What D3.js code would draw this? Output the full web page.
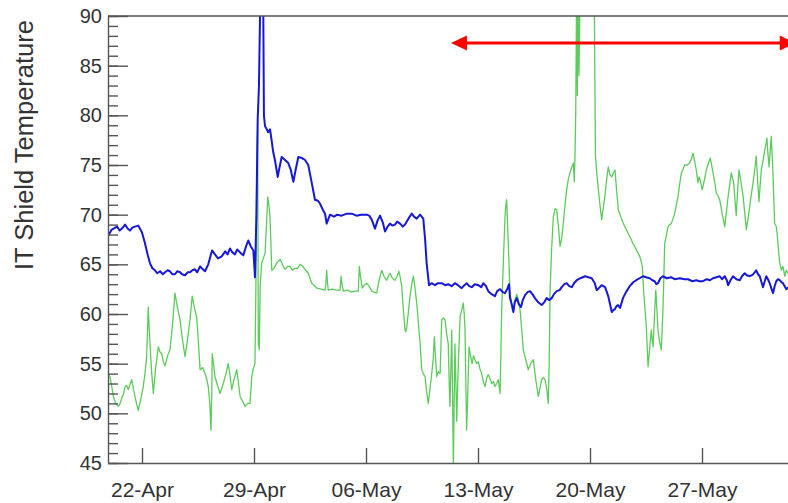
<!DOCTYPE html>
<html>
<head>
<meta charset="utf-8">
<script src="https://cdn.jsdelivr.net/npm/d3@7"></script>
<style>
  body { margin: 0; background: #fff; }
  svg { display: block; font-family: "Liberation Sans", Arial, Helvetica, sans-serif; }
  .axis text { fill: #333; }
  .axis line, .axis path { stroke: #555; stroke-width: 1.4; }
</style>
</head>
<body>
<div id="chart"></div>
<script>
// days counted from 22-Apr 00:00, value in deg
const blueSeries = [
  [-2.14,67.8],[-1.89,68.5],[-1.56,68.8],[-1.4,68.4],[-1.25,68.6],[-1.06,69.0],[-0.9,68.6],[-0.75,68.4],
  [-0.6,68.7],[-0.44,68.8],[-0.23,68.9],[0.0,68.2],[0.19,67.1],[0.35,66.0],[0.5,65.1],[0.65,64.6],
  [0.81,64.4],[0.95,64.1],[1.13,64.3],[1.3,64.0],[1.44,64.2],[1.6,64.4],[1.75,64.3],[1.9,64.0],
  [2.06,64.0],[2.2,64.3],[2.38,64.2],[2.5,64.0],[2.69,63.9],[2.85,64.2],[3.0,64.2],[3.15,64.4],
  [3.31,64.5],[3.45,64.2],[3.63,64.8],[3.8,64.5],[3.94,64.3],[4.14,65.0],[4.38,66.4],[4.56,66.0],
  [4.75,65.6],[4.98,65.8],[5.2,66.3],[5.35,66.0],[5.5,66.6],[5.65,66.2],[5.81,66.0],[5.95,66.5],
  [6.13,66.2],[6.33,65.9],[6.5,66.8],[6.64,67.4],[6.8,66.8],[6.96,66.4],[7.06,63.7],[7.15,70.0],
  [7.23,79.6],[7.31,82.9],[7.38,90.5],[7.45,90.5],[7.58,90.5],[7.62,80.0],[7.69,78.9],[7.8,78.6],
  [7.89,78.3],[8.0,78.6],[8.1,77.5],[8.2,76.3],[8.31,75.5],[8.48,73.8],[8.6,74.8],[8.73,75.8],
  [8.94,75.5],[9.14,75.2],[9.3,74.5],[9.46,73.3],[9.6,74.5],[9.77,75.8],[10.0,75.7],[10.19,75.5],
  [10.39,75.0],[10.61,73.2],[10.81,71.5],[11.0,71.4],[11.13,71.1],[11.3,70.5],[11.44,70.1],[11.54,69.1],
  [11.75,70.0],[12.0,69.8],[12.2,70.0],[12.48,69.9],[12.8,70.1],[13.11,70.1],[13.4,69.9],[13.7,70.0],
  [14.04,70.0],[14.2,69.9],[14.36,69.5],[14.56,68.6],[14.72,69.4],[14.88,69.9],[15.05,69.2],[15.19,68.3],
  [15.35,68.8],[15.5,69.1],[15.65,68.9],[15.81,69.0],[15.95,69.3],[16.13,69.1],[16.3,68.8],[16.44,69.0],
  [16.65,69.6],[16.86,70.1],[17.0,69.8],[17.17,69.6],[17.38,70.0],[17.58,69.6],[17.7,67.4],[17.79,65.1],
  [17.94,62.9],[18.1,63.1],[18.31,62.9],[18.5,63.1],[18.73,63.1],[18.95,62.9],[19.14,63.0],[19.35,62.8],
  [19.56,63.1],[19.75,62.9],[19.98,62.6],[20.15,62.9],[20.29,63.1],[20.45,62.8],[20.61,62.7],[20.8,63.0],
  [21.02,62.9],[21.2,62.7],[21.33,63.1],[21.5,62.8],[21.64,62.3],[21.85,62.0],[22.06,61.8],[22.2,62.3],
  [22.38,62.5],[22.55,62.2],[22.69,62.1],[22.85,62.6],[22.94,63.0],[23.0,61.6],[23.1,61.0],[23.21,60.2],
  [23.3,61.2],[23.42,61.6],[23.55,61.0],[23.69,60.7],[23.8,61.4],[23.94,61.9],[24.1,62.2],[24.25,62.3],
  [24.4,62.0],[24.56,61.6],[24.75,61.2],[24.98,60.9],[25.15,61.2],[25.29,61.6],[25.45,61.4],[25.61,61.6],
  [25.75,62.0],[25.92,62.3],[26.1,62.4],[26.23,62.7],[26.4,63.0],[26.54,63.1],[26.7,62.8],[26.86,62.7],
  [27.0,63.1],[27.17,63.4],[27.4,63.6],[27.69,63.8],[27.9,63.7],[28.11,63.6],[28.3,63.1],[28.42,62.4],
  [28.55,62.6],[28.73,62.9],[28.94,62.7],[29.14,61.8],[29.25,61.0],[29.36,60.2],[29.46,60.4],[29.56,60.5],
  [29.66,60.8],[29.75,60.9],[29.88,60.6],[30.06,61.6],[30.25,62.2],[30.48,62.8],[30.7,63.2],[30.89,63.4],
  [31.1,63.6],[31.31,63.8],[31.5,63.7],[31.73,63.6],[31.9,63.4],[32.04,63.3],[32.15,63.0],[32.25,63.1],
  [32.4,63.6],[32.56,63.8],[32.8,63.6],[33.06,63.7],[33.3,63.5],[33.61,63.6],[33.9,63.5],[34.13,63.5],
  [34.4,63.3],[34.64,63.4],[34.85,63.3],[35.06,63.3],[35.3,63.5],[35.5,63.4],[35.69,63.6],[35.9,63.7],
  [36.11,63.8],[36.25,63.5],[36.42,63.8],[36.55,63.4],[36.63,62.9],[36.78,63.4],[36.94,63.8],[37.15,63.5],
  [37.36,63.4],[37.5,63.8],[37.67,64.1],[37.8,63.9],[37.98,63.8],[38.2,64.0],[38.39,64.4],[38.5,64.0],
  [38.61,63.8],[38.72,63.2],[38.81,62.7],[38.92,63.3],[39.02,63.8],[39.12,63.5],[39.23,63.1],[39.35,62.5],
  [39.44,62.1],[39.54,62.8],[39.64,63.3],[39.75,63.5],[39.86,63.4],[39.96,63.2],[40.06,63.1],[40.17,62.8],
  [40.27,62.5],[40.5,62.8]
];

const greenSeries = [
  [-2.14,54.0],[-2.0,53.7],[-1.9,52.8],[-1.79,51.7],[-1.65,51.0],[-1.48,50.7],[-1.37,51.0],[-1.27,51.5],
  [-1.15,52.0],[-1.06,52.7],[-0.96,52.8],[-0.86,52.4],[-0.75,52.9],[-0.64,53.4],[-0.55,52.6],[-0.44,51.7],
  [-0.33,50.9],[-0.23,50.3],[-0.08,51.4],[0.08,52.7],[0.2,54.2],[0.29,55.7],[0.35,58.5],[0.39,60.7],
  [0.45,58.6],[0.5,57.0],[0.6,54.2],[0.71,52.0],[0.85,54.5],[1.02,56.7],[1.12,56.2],[1.23,56.0],
  [1.33,55.2],[1.44,54.8],[1.6,55.8],[1.75,56.4],[1.9,58.8],[2.06,62.1],[2.2,60.8],[2.38,59.4],
  [2.53,57.4],[2.69,55.7],[2.85,57.5],[3.0,59.4],[3.14,61.8],[3.28,60.6],[3.42,59.7],[3.53,57.0],
  [3.63,54.4],[3.8,54.6],[3.94,54.0],[4.04,53.5],[4.14,52.7],[4.24,51.0],[4.31,48.3],[4.36,52.0],
  [4.39,56.0],[4.47,55.0],[4.56,53.7],[4.72,52.8],[4.88,52.0],[5.0,52.6],[5.08,53.0],[5.25,54.0],
  [5.39,55.0],[5.5,53.8],[5.61,52.4],[5.75,53.4],[5.92,54.4],[6.02,53.2],[6.13,51.7],[6.3,51.2],
  [6.44,50.7],[6.6,51.0],[6.75,51.0],[6.86,53.7],[6.96,54.5],[7.06,55.0],[7.12,63.0],[7.17,73.8],
  [7.23,79.5],[7.25,68.0],[7.27,57.1],[7.33,56.4],[7.36,60.0],[7.39,63.0],[7.48,65.1],[7.58,65.6],
  [7.69,66.1],[7.78,69.0],[7.86,71.8],[7.93,71.0],[8.0,69.8],[8.06,67.0],[8.11,64.4],[8.2,64.5],
  [8.31,64.8],[8.45,65.2],[8.63,65.5],[8.8,64.9],[8.94,64.5],[9.1,64.8],[9.25,64.8],[9.4,64.4],
  [9.56,64.6],[9.72,64.6],[9.88,65.0],[10.05,64.8],[10.19,64.5],[10.39,64.1],[10.61,63.1],[10.75,62.9],
  [10.92,62.6],[11.2,62.5],[11.44,62.4],[11.5,63.2],[11.54,64.4],[11.59,63.2],[11.64,62.4],[11.9,62.5],
  [12.15,62.4],[12.38,62.4],[12.44,63.8],[12.5,63.0],[12.58,62.3],[12.85,62.4],[13.1,62.2],[13.3,62.3],
  [13.52,62.3],[13.55,63.6],[13.58,64.8],[13.65,63.8],[13.77,62.6],[13.9,62.9],[14.04,63.1],[14.2,62.8],
  [14.36,62.3],[14.5,62.2],[14.67,62.1],[14.82,63.4],[14.98,64.4],[15.12,63.8],[15.29,63.4],[15.4,63.8],
  [15.5,64.1],[15.65,63.6],[15.81,63.4],[15.95,63.8],[16.06,64.3],[16.15,63.6],[16.23,62.8],[16.33,60.5],
  [16.44,58.4],[16.49,58.2],[16.54,58.6],[16.65,60.2],[16.75,61.8],[16.86,63.0],[16.96,63.8],[17.05,62.8],
  [17.17,61.1],[17.28,59.0],[17.38,57.1],[17.48,54.4],[17.58,54.0],[17.69,53.7],[17.79,52.2],[17.89,51.0],
  [18.0,52.5],[18.11,54.0],[18.2,55.5],[18.27,57.7],[18.35,55.5],[18.42,53.7],[18.52,54.2],[18.63,54.0],
  [18.68,56.5],[18.73,59.4],[18.85,59.6],[18.94,59.4],[19.04,58.0],[19.14,57.0],[19.2,53.0],[19.25,50.7],
  [19.31,55.0],[19.36,58.4],[19.41,52.0],[19.46,44.5],[19.51,51.0],[19.56,57.0],[19.62,53.0],[19.67,49.2],
  [19.77,55.0],[19.88,59.7],[19.98,60.4],[20.08,61.1],[20.14,60.0],[20.19,58.4],[20.24,53.0],[20.29,48.3],
  [20.36,52.0],[20.44,56.7],[20.53,55.8],[20.63,55.0],[20.72,55.8],[20.81,55.4],[20.92,55.0],[21.02,55.2],
  [21.12,54.5],[21.23,54.0],[21.33,53.2],[21.44,52.7],[21.54,53.5],[21.64,53.9],[21.75,53.5],[21.86,53.0],
  [21.96,53.2],[22.06,52.7],[22.17,53.0],[22.27,53.4],[22.33,52.6],[22.38,52.0],[22.43,56.0],[22.48,60.4],
  [22.6,66.0],[22.69,69.8],[22.74,71.0],[22.79,71.5],[22.84,69.5],[22.89,67.1],[22.95,64.5],[23.0,62.1],
  [23.11,61.1],[23.21,60.4],[23.32,61.5],[23.42,62.0],[23.52,61.5],[23.63,60.4],[23.73,58.5],[23.83,56.4],
  [24.0,55.3],[24.14,54.4],[24.3,55.0],[24.46,55.4],[24.6,53.5],[24.77,51.7],[24.88,52.6],[24.98,53.4],
  [25.1,53.6],[25.19,53.4],[25.3,52.4],[25.39,51.0],[25.45,55.0],[25.5,62.1],[25.6,66.5],[25.71,69.8],
  [25.82,70.6],[25.92,70.5],[26.03,68.8],[26.13,66.8],[26.23,67.6],[26.33,69.1],[26.44,71.0],[26.54,72.5],
  [26.65,73.6],[26.75,74.2],[26.86,74.8],[26.96,75.2],[27.02,73.3],[27.07,76.5],[27.11,80.5],[27.16,92.0],
  [27.21,82.0],[27.25,93.0],[27.31,84.0],[27.41,96.0],[28.25,96.0],[28.34,76.0],[28.42,74.2],[28.52,72.6],
  [28.62,71.0],[28.73,69.5],[28.84,70.8],[28.94,72.0],[29.04,73.5],[29.14,74.8],[29.25,74.0],[29.36,73.8],
  [29.46,74.2],[29.56,74.5],[29.66,72.5],[29.77,70.5],[29.88,70.0],[29.98,69.5],[30.12,69.0],[30.27,68.5],
  [30.42,68.0],[30.58,67.5],[30.68,67.1],[30.79,66.8],[30.95,66.3],[31.11,65.8],[31.2,65.3],[31.27,64.8],
  [31.36,62.1],[31.44,60.4],[31.52,58.7],[31.58,56.5],[31.63,54.7],[31.73,56.5],[31.83,58.4],[31.88,57.5],
  [31.94,56.7],[32.02,59.5],[32.11,62.4],[32.18,60.5],[32.25,58.4],[32.35,57.2],[32.46,56.4],[32.51,58.5],
  [32.56,60.4],[32.62,64.0],[32.67,67.1],[32.78,68.0],[32.88,68.8],[32.98,69.0],[33.08,69.1],[33.19,69.6],
  [33.29,70.1],[33.4,71.0],[33.5,71.8],[33.6,73.0],[33.71,74.2],[33.82,74.6],[33.92,75.0],[34.07,75.0],
  [34.23,75.2],[34.34,75.6],[34.44,76.2],[34.54,75.4],[34.64,74.5],[34.7,73.8],[34.75,73.2],[34.82,73.8],
  [34.88,73.5],[34.95,73.0],[35.02,72.5],[35.15,73.5],[35.27,74.5],[35.4,75.2],[35.52,75.7],[35.6,75.0],
  [35.69,74.2],[35.8,73.2],[35.89,72.2],[36.0,71.9],[36.11,71.5],[36.25,70.2],[36.42,68.8],[36.53,70.3],
  [36.63,71.8],[36.73,73.0],[36.83,74.2],[36.9,73.7],[36.98,73.2],[37.06,71.5],[37.14,69.9],[37.22,72.2],
  [37.31,74.5],[37.43,73.3],[37.56,72.0],[37.67,70.2],[37.77,68.5],[37.88,69.6],[37.98,70.8],[38.08,72.0],
  [38.19,73.2],[38.29,74.5],[38.39,75.9],[38.47,73.6],[38.56,71.3],[38.63,72.9],[38.71,74.5],[38.82,75.5],
  [38.92,76.5],[39.0,77.1],[39.06,77.7],[39.12,76.2],[39.19,74.8],[39.26,76.3],[39.33,77.9],[39.39,75.8],
  [39.44,73.8],[39.49,71.5],[39.54,69.1],[39.6,69.0],[39.64,68.8],[39.7,68.0],[39.75,67.1],[39.8,66.1],
  [39.86,65.1],[39.91,64.8],[39.96,64.4],[40.01,64.6],[40.06,64.8],[40.12,64.3],[40.17,63.8],[40.22,64.1],
  [40.27,64.4],[40.5,63.8]
];

const dateTicks = ["2013-04-22", "2013-04-29", "2013-05-06", "2013-05-13", "2013-05-20", "2013-05-27"];
const yMajorTicks = [45, 50, 55, 60, 65, 70, 75, 80, 85, 90];
const yTitle = "IT Shield Temperature";
// window of interest marked with the red arrow: [start day, end day, level]
const arrowSpan = [19.31, 40.86, 87.28];

const W = 788, H = 503;
const margin = { left: 108, top: 16, bottom: 40 };
const plotRight = 790;
const base = new Date(2013, 3, 22);
const dayToDate = d => new Date(base.getTime() + d * 864e5);
const parse = d3.timeParse("%Y-%m-%d");

const svg = d3.select("#chart").append("svg")
  .attr("width", W)
  .attr("height", H);

const x = d3.scaleTime()
  .domain([dayToDate(-2.125), dayToDate(40.5)])
  .range([margin.left, plotRight]);

const y = d3.scaleLinear()
  .domain([45, 90])
  .range([H - margin.bottom, margin.top]);

svg.append("clipPath").attr("id", "plot-clip")
  .append("rect")
  .attr("x", margin.left)
  .attr("y", margin.top)
  .attr("width", plotRight - margin.left)
  .attr("height", y(45) - y(90));

const line = d3.line()
  .x(d => x(dayToDate(d[0])))
  .y(d => y(d[1]));

const lines = svg.append("g").attr("clip-path", "url(#plot-clip)");

lines.append("path")
  .datum(greenSeries)
  .attr("fill", "none")
  .attr("stroke", "#5ccb5c")
  .attr("stroke-width", 1.3)
  .attr("stroke-linejoin", "round")
  .attr("d", line);

lines.append("path")
  .datum(blueSeries)
  .attr("fill", "none")
  .attr("stroke", "#1717d6")
  .attr("stroke-width", 2)
  .attr("stroke-linejoin", "round")
  .attr("d", line);

// minor y ticks every 1 deg
svg.append("g")
  .attr("class", "axis")
  .attr("transform", `translate(${margin.left},0)`)
  .call(d3.axisLeft(y).tickValues(d3.range(45, 91, 1)).tickSize(-10).tickSizeOuter(0).tickFormat(""))
  .call(g => g.select(".domain").remove());

svg.append("g")
  .attr("class", "axis")
  .attr("transform", `translate(${margin.left},0)`)
  .call(d3.axisLeft(y).tickValues(yMajorTicks).tickSize(-20).tickSizeOuter(0).tickPadding(6))
  .call(g => g.selectAll("text").attr("font-size", "20px"));

svg.append("g")
  .attr("class", "axis")
  .attr("transform", `translate(0,${y(45)})`)
  .call(d3.axisBottom(x)
    .tickValues(dateTicks.map(parse))
    .tickFormat(d3.timeFormat("%d-%b"))
    .tickSize(-15).tickSizeOuter(0).tickPadding(19))
  .call(g => g.selectAll("text").attr("font-size", "21px"));

// top frame line
svg.append("line")
  .attr("x1", margin.left).attr("x2", W)
  .attr("y1", y(90)).attr("y2", y(90))
  .attr("stroke", "#555").attr("stroke-width", 1.4);

svg.append("text")
  .attr("transform", `translate(33,145) rotate(-90)`)
  .attr("text-anchor", "middle")
  .attr("font-size", "25.5px")
  .attr("fill", "#333")
  .text(yTitle);

// red double arrow
const ax1 = x(dayToDate(arrowSpan[0])), ax2 = x(dayToDate(arrowSpan[1])), ay = y(arrowSpan[2]);
const head = 16, half = 7.5;
svg.append("line")
  .attr("x1", ax1 + head - 2).attr("x2", ax2 - head + 2)
  .attr("y1", ay).attr("y2", ay)
  .attr("stroke", "#ff0000").attr("stroke-width", 3);
svg.append("path")
  .attr("fill", "#ff0000")
  .attr("d", `M${ax1},${ay}L${ax1 + head},${ay - half}L${ax1 + head},${ay + half}Z`);
svg.append("path")
  .attr("fill", "#ff0000")
  .attr("d", `M${ax2},${ay}L${ax2 - head},${ay - half}L${ax2 - head},${ay + half}Z`);
</script>
</body>
</html>
